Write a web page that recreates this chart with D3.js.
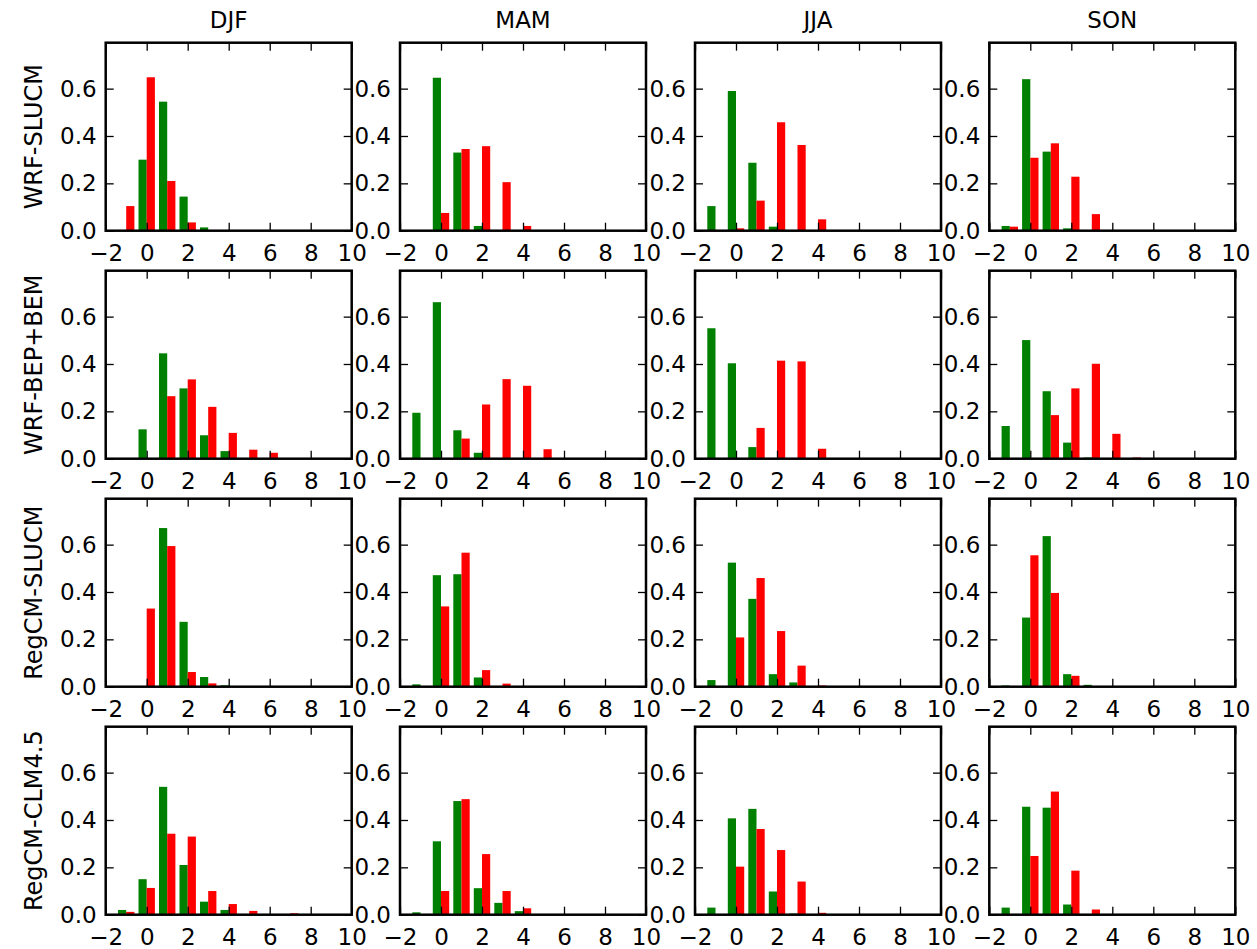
<!DOCTYPE html>
<html lang="en">

<head>
    <meta charset="UTF-8">
    <title>Seasonal histograms</title>
    <style>
        body { margin: 0; background: #fff; }
        text { font-family: "DejaVu Sans", sans-serif; fill: #000; }
    </style>
</head>

<body>
    <script src="https://cdn.jsdelivr.net/npm/d3@7"></script>
    <script>
        // categories
        var seasons = ["DJF", "MAM", "JJA", "SON"];
        var models = ["WRF-SLUCM", "WRF-BEP+BEM", "RegCM-SLUCM", "RegCM-CLM4.5"];
        // bin centres shared by every panel
        var bins = [-1, 0, 1, 2, 3, 4, 5, 6, 7];
        var xTicks = [-2, 0, 2, 4, 6, 8, 10];
        var yTicks = [0, 0.2, 0.4, 0.6];

        // green series, one row per season (DJF, MAM, JJA, SON)
        var greenWrfSlucm = [
            [0, 0.30, 0.545, 0.144, 0.014, 0, 0, 0, 0],
            [0, 0.646, 0.33, 0.02, 0, 0, 0, 0, 0],
            [0.104, 0.59, 0.287, 0.017, 0, 0, 0, 0, 0],
            [0.02, 0.64, 0.334, 0.01, 0, 0, 0, 0, 0]
        ];
        var greenWrfBep = [
            [0, 0.124, 0.445, 0.297, 0.099, 0.032, 0, 0, 0],
            [0.194, 0.661, 0.12, 0.025, 0, 0, 0, 0, 0],
            [0.551, 0.403, 0.049, 0, 0, 0, 0, 0, 0],
            [0.138, 0.501, 0.285, 0.068, 0.005, 0, 0, 0, 0]
        ];
        var greenRegcmSlucm = [
            [0, 0, 0.67, 0.274, 0.041, 0.006, 0, 0, 0],
            [0.01, 0.471, 0.475, 0.039, 0, 0, 0, 0, 0],
            [0.028, 0.524, 0.371, 0.053, 0.018, 0, 0, 0, 0],
            [0.005, 0.292, 0.636, 0.053, 0.008, 0, 0, 0, 0]
        ];
        var greenRegcmClm = [
            [0.02, 0.15, 0.54, 0.21, 0.055, 0.02, 0, 0, 0],
            [0.01, 0.31, 0.48, 0.112, 0.05, 0.015, 0, 0, 0],
            [0.03, 0.407, 0.447, 0.098, 0.005, 0, 0, 0, 0],
            [0.03, 0.456, 0.452, 0.043, 0, 0, 0, 0, 0]
        ];

        // red series
        var redWrfSlucm = [
            [0.104, 0.648, 0.21, 0.035, 0, 0, 0, 0, 0],
            [0, 0.075, 0.345, 0.357, 0.205, 0.02, 0, 0, 0],
            [0, 0.01, 0.127, 0.458, 0.362, 0.048, 0, 0, 0],
            [0.017, 0.308, 0.369, 0.228, 0.07, 0, 0, 0, 0]
        ];
        var redWrfBep = [
            [0, 0, 0.264, 0.335, 0.219, 0.109, 0.038, 0.025, 0],
            [0, 0, 0.085, 0.229, 0.336, 0.308, 0.04, 0, 0],
            [0, 0, 0.13, 0.414, 0.411, 0.042, 0, 0, 0],
            [0, 0, 0.184, 0.297, 0.401, 0.105, 0.005, 0, 0]
        ];
        var redRegcmSlucm = [
            [0, 0.33, 0.594, 0.062, 0.014, 0, 0, 0, 0],
            [0, 0.339, 0.566, 0.07, 0.013, 0, 0, 0, 0],
            [0, 0.208, 0.459, 0.235, 0.089, 0.005, 0, 0, 0],
            [0, 0.555, 0.396, 0.046, 0, 0, 0, 0, 0]
        ];
        var redRegcmClm = [
            [0.012, 0.113, 0.342, 0.33, 0.1, 0.045, 0.016, 0, 0.006],
            [0, 0.1, 0.488, 0.256, 0.1, 0.027, 0, 0, 0],
            [0, 0.203, 0.362, 0.273, 0.14, 0.008, 0, 0, 0],
            [0, 0.248, 0.52, 0.186, 0.022, 0, 0, 0, 0]
        ];

        var green = [greenWrfSlucm, greenWrfBep, greenRegcmSlucm, greenRegcmClm];
        var red = [redWrfSlucm, redWrfBep, redRegcmSlucm, redRegcmClm];

        // layout of the 4x4 grid
        var colLeft = [105.7, 400, 695, 989.3],
            rowTop = 42.7,
            rowStep = 228,
            width = 246,
            height = 188,
            fontSize = 23;

        var x = d3.scaleLinear().domain([-2, 10]).range([0, width]);
        var y = d3.scaleLinear().domain([0, 0.794]).range([height, 0]);
        var barW = 0.4;

        var svg = d3.select("body").append("svg")
            .attr("width", 1257)
            .attr("height", 949);

        // season titles
        svg.selectAll(".season")
            .data(seasons)
            .enter().append("text")
            .attr("class", "season")
            .attr("x", function (d, i) { return colLeft[i] + width / 2; })
            .attr("y", 28)
            .attr("text-anchor", "middle")
            .style("font-size", fontSize + "px")
            .text(function (d) { return d; });

        // model labels on the left
        svg.selectAll(".model")
            .data(models)
            .enter().append("text")
            .attr("class", "model")
            .attr("transform", function (d, r) {
                return "translate(42," + (rowTop + r * rowStep + height / 2) + ") rotate(-90)";
            })
            .attr("text-anchor", "middle")
            .style("font-size", "24px")
            .text(function (d) { return d; });

        models.forEach(function (m, r) {
            seasons.forEach(function (s, c) {
                var g = svg.append("g")
                    .attr("transform", "translate(" + colLeft[c] + "," + (rowTop + r * rowStep) + ")");

                var gv = green[r][c], rv = red[r][c];

                // green bars sit left of the bin centre, red bars right of it
                g.selectAll(".g").data(bins).enter().append("rect")
                    .attr("x", function (b) { return x(b - barW); })
                    .attr("width", x(barW) - x(0))
                    .attr("y", function (b, i) { return y(gv[i]); })
                    .attr("height", function (b, i) { return height - y(gv[i]); })
                    .style("fill", "#008000");

                g.selectAll(".r").data(bins).enter().append("rect")
                    .attr("x", function (b) { return x(b); })
                    .attr("width", x(barW) - x(0))
                    .attr("y", function (b, i) { return y(rv[i]); })
                    .attr("height", function (b, i) { return height - y(rv[i]); })
                    .style("fill", "#ff0000");

                // inward ticks on all four sides
                var bottom = g.append("g")
                    .attr("transform", "translate(0," + height + ")")
                    .call(d3.axisBottom(x).tickValues(xTicks).tickSizeInner(-8).tickSizeOuter(0)
                        .tickPadding(14).tickFormat(d3.format("d")));
                var top = g.append("g")
                    .call(d3.axisTop(x).tickValues(xTicks).tickSizeInner(-8).tickSizeOuter(0)
                        .tickFormat(""));
                var left = g.append("g")
                    .call(d3.axisLeft(y).tickValues(yTicks).tickSizeInner(-8).tickSizeOuter(0)
                        .tickPadding(9).tickFormat(d3.format(".1f")));
                var right = g.append("g")
                    .attr("transform", "translate(" + width + ",0)")
                    .call(d3.axisRight(y).tickValues(yTicks).tickSizeInner(-8).tickSizeOuter(0)
                        .tickFormat(""));

                [bottom, top, left, right].forEach(function (a) {
                    a.select(".domain").remove();
                    a.selectAll("line").style("stroke", "#000").style("stroke-width", 1.3);
                    a.selectAll("text")
                        .style("font-size", fontSize + "px")
                        .style("font-family", "DejaVu Sans");
                });

                g.append("rect")
                    .attr("width", width)
                    .attr("height", height)
                    .style("fill", "none")
                    .style("stroke", "#000")
                    .style("stroke-width", 2.5);
            });
        });
    </script>
</body>

</html>
